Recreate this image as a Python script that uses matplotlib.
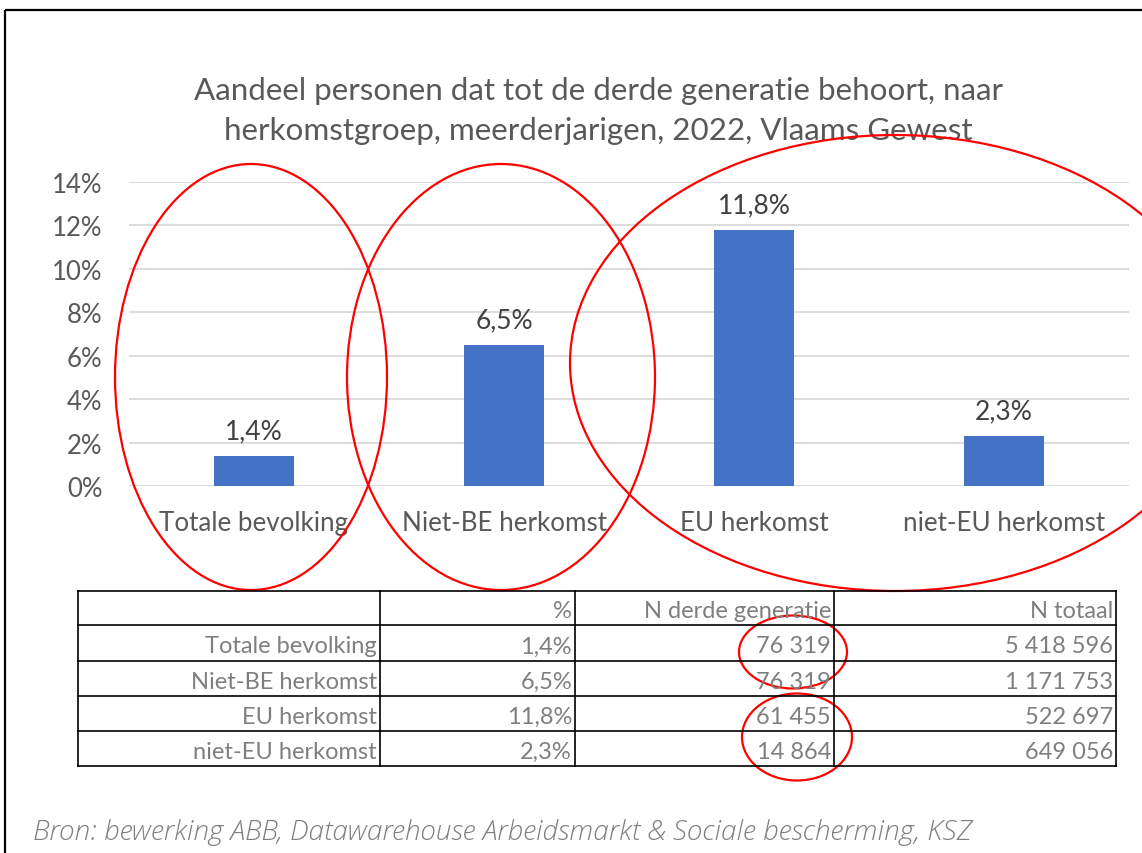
import matplotlib
matplotlib.use("Agg")
import matplotlib.pyplot as plt
from matplotlib.patches import Ellipse
from matplotlib.ticker import FuncFormatter

# ---- data ----
categories = ['Totale bevolking', 'Niet-BE herkomst', 'EU herkomst', 'niet-EU herkomst']
pct = [1.4, 6.5, 11.8, 2.3]
n_derde = [76319, 76319, 61455, 14864]
n_totaal = [5418596, 1171753, 522697, 649056]
yticks = [0, 2, 4, 6, 8, 10, 12, 14]
col_headers = ['', '%', 'N derde generatie', 'N totaal']
title = "Aandeel personen dat tot de derde generatie behoort, naar\nherkomstgroep, meerderjarigen, 2022, Vlaams Gewest"
source = "Bron: bewerking ABB, Datawarehouse Arbeidsmarkt & Sociale bescherming, KSZ"

W, H = 1142, 854
fig = plt.figure(figsize=(W / 100, H / 100), dpi=100)
fig.patch.set_facecolor('white')

FONT = ['Lato', 'DejaVu Sans']

def fx(px):
    return px / W

def fy(py):
    return 1 - py / H

# ---- bar chart ----
ax_l, ax_r, ax_t, ax_b = 129, 1129, 183, 487
ax = fig.add_axes([fx(ax_l), fy(ax_b), fx(ax_r - ax_l), (ax_b - ax_t) / H])
x = list(range(len(categories)))
ax.bar(x, pct, width=0.32, color='#4472C4', zorder=3)
ax.set_xlim(-0.5, len(categories) - 0.5)
ax.set_ylim(0, 14)
ax.set_yticks(yticks)
ax.yaxis.set_major_formatter(FuncFormatter(lambda v, p: f"{int(v)}%"))
ax.grid(axis='y', color='#d9d9d9', linewidth=1.3, zorder=0)
for s in ax.spines.values():
    s.set_visible(False)
ax.tick_params(axis='y', length=0, pad=19, labelsize=18.5, labelcolor='#595959')
ax.tick_params(axis='x', length=0, pad=17.5, labelsize=18.7, labelcolor='#595959')
ax.set_xticks(x)
ax.set_xticklabels(categories)
for lab in ax.get_xticklabels() + ax.get_yticklabels():
    lab.set_family(FONT)
for xi, v in zip(x, pct):
    ax.annotate(f"{v:.1f}%".replace('.', ','), (xi, v), xytext=(0, 18), textcoords='offset points',
                ha='center', va='center', fontsize=19, color='#404040', family=FONT)

# ---- title ----
fig.text(fx(598), fy(111), title, ha='center', va='center', fontsize=22.6,
         color='#595959', family=FONT, linespacing=1.48)

# ---- overlay for table, border, ellipses ----
ov = fig.add_axes([0, 0, 1, 1], zorder=10)
ov.set_xlim(0, W)
ov.set_ylim(H, 0)
ov.axis('off')
ov.patch.set_alpha(0)

# border
ov.plot([5, W], [11, 11], color='black', lw=1.6, solid_capstyle='butt')
ov.plot([5, 5], [11, H], color='black', lw=1.6, solid_capstyle='butt')

# table
col_edges = [78, 380, 575, 834, 1116]
row_edges = [592, 626, 662, 697, 732, 767]
for yy in row_edges:
    ov.plot([col_edges[0], col_edges[-1]], [yy, yy], color='black', lw=1.2)
for xx in col_edges:
    ov.plot([xx, xx], [row_edges[0], row_edges[-1]], color='black', lw=1.2)

def fmt_int(n):
    return f"{n:,}".replace(',', ' ')

rows = [col_headers]
for c, p, nd, nt in zip(categories, pct, n_derde, n_totaal):
    rows.append([c, f"{p:.1f}%".replace('.', ','), fmt_int(nd), fmt_int(nt)])
for ri, row in enumerate(rows):
    yc = (row_edges[ri] + row_edges[ri + 1]) / 2 + 3
    for ci, txt in enumerate(row):
        ov.text(col_edges[ci + 1] - 3, yc, txt, ha='right', va='center', fontsize=17,
                color='#7f7f7f', family=FONT)

# source
ov.text(33, 833, source, ha='left', va='center', fontsize=20.2, style='italic',
        color='#7f7f7f', family=['Open Sans', 'DejaVu Sans'], fontweight='light')

# red ellipses
ells = [((251, 378), 272, 426), ((501, 378), 308, 426), ((895, 364), 650, 456),
        ((793, 653), 108, 73), ((797, 738), 110, 87)]
for (cx, cy), w, h in ells:
    ov.add_patch(Ellipse((cx, cy), w, h, fill=False, edgecolor='#ff0000', lw=1.6))

fig.savefig('out.png', dpi=100)
